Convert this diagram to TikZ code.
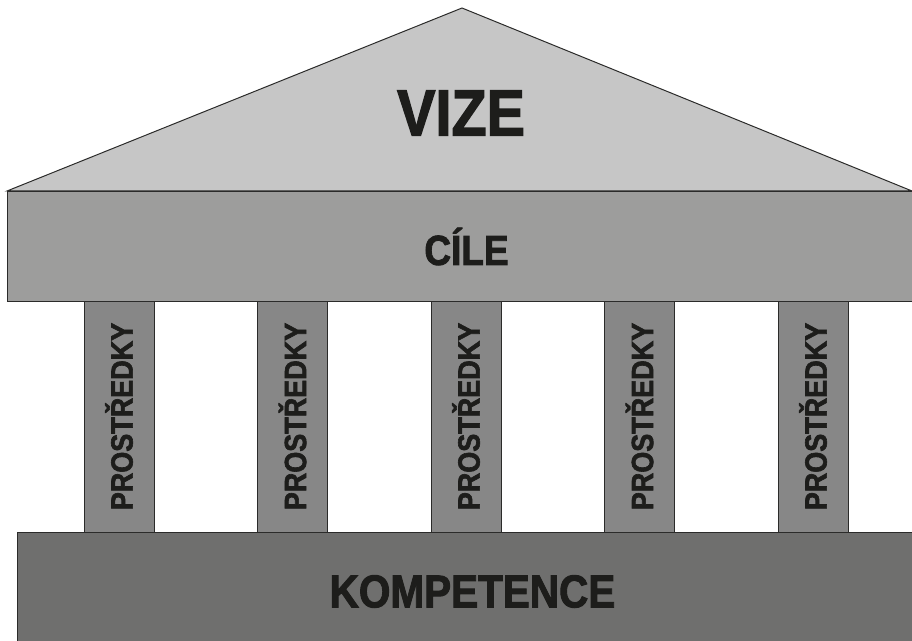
\documentclass[tikz,border=0pt]{standalone}
\usepackage{fontspec}
\setmainfont{Liberation Sans}
\newfontfamily\chramfont[FakeStretch=0.88, FakeBold=2]{Liberation Sans Bold}
\usetikzlibrary{positioning}
\definecolor{linka}{HTML}{2B2B2A}
\definecolor{pismo}{HTML}{1D1D1B}
\definecolor{strecha}{HTML}{C6C6C6}
\definecolor{rimsa}{HTML}{9D9D9C}
\definecolor{sloupek}{HTML}{878787}
\definecolor{zaklad}{HTML}{6F6F6E}
\tikzstyle{deska} = [draw=linka, line width=0.75pt, rectangle, inner sep=0pt, text=pismo, font=\chramfont]
\tikzstyle{sloup} = [deska, fill=sloupek, rotate=90, minimum width=173.25pt, minimum height=52.5pt, font=\chramfont\fontsize{23}{23}\selectfont]

\begin{document}
\begin{tikzpicture}[x=0.75pt, y=-0.75pt]
	\useasboundingbox (0,0) rectangle (912,641);
	% stit
	\coordinate (levy) at (7,191);
	\coordinate (vrchol) at (462,8);
	\coordinate (pravy) at (912,191);
	\draw[draw=linka, line width=0.75pt, fill=strecha] (levy) -- (vrchol) -- (pravy) -- cycle;
	\node[text=pismo, font=\chramfont\fontsize{49}{49}\selectfont] (vize) at (461,113) {VIZE};
	% rimsa
	\node[deska, fill=rimsa, anchor=north west, minimum width=688.5pt, minimum height=82.5pt,
		font=\chramfont\fontsize{31.5}{31.5}\selectfont] (cile) at (levy) {CÍLE};
	% sloupy
	\foreach \i/\x in {1/119, 2/292.5, 3/466, 4/639.5, 5/813}
		\node[sloup] (sloup\i) at (\x,416.5) {PROSTŘEDKY};
	% zaklad
	\node[deska, fill=zaklad, anchor=north west, minimum width=682.5pt, minimum height=88.5pt,
		font=\chramfont\fontsize{34.5}{34.5}\selectfont] (kompetence) at (17,532) {KOMPETENCE};
\end{tikzpicture}
\end{document}
